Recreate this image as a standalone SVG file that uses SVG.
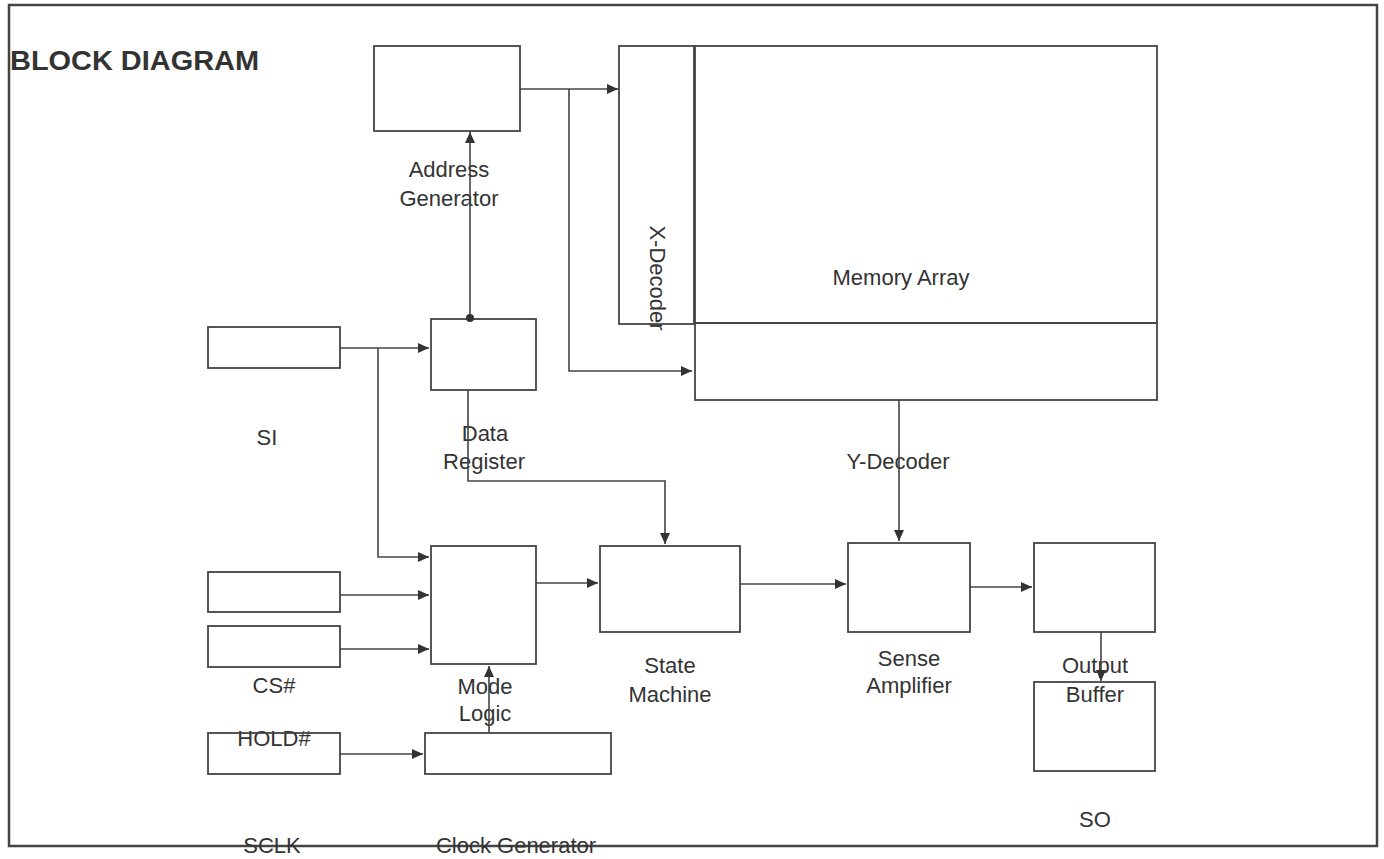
<svg xmlns="http://www.w3.org/2000/svg" width="1384" height="859" viewBox="0 0 1384 859">
<style>
.b{fill:none;stroke:#444;stroke-width:1.8}
.t{font-family:"Liberation Sans",Arial,sans-serif;font-size:22px;fill:#333;text-anchor:middle}
.c{fill:none;stroke:#444;stroke-width:1.6}
</style>
<defs>
<marker id="ah" markerUnits="userSpaceOnUse" markerWidth="11" markerHeight="10" refX="11" refY="5" orient="auto">
<path d="M0,0 L11,5 L0,10 z" fill="#333"/>
</marker>
</defs>
<rect x="0" y="0" width="1384" height="859" fill="#fff"/>
<rect x="9" y="5" width="1368" height="841" fill="none" stroke="#444" stroke-width="2.5"/>
<text x="10" y="70" font-family="Liberation Sans,Arial,sans-serif" font-weight="bold" font-size="27" fill="#333" textLength="249" lengthAdjust="spacingAndGlyphs">BLOCK DIAGRAM</text>

<g id="address-generator"><rect class="b" x="374" y="46" width="146" height="85"/><text class="t" x="449" y="177">Address</text><text class="t" x="449" y="206">Generator</text></g>
<g id="x-decoder"><rect class="b" x="619" y="46" width="75" height="278"/><text class="t" transform="translate(650,278) rotate(90)">X-Decoder</text></g>
<g id="memory-array"><rect class="b" x="695" y="46" width="462" height="277" stroke-width="2.2"/><text class="t" x="901" y="285">Memory Array</text></g>
<g id="y-decoder"><rect class="b" x="695" y="323" width="462" height="77"/><text class="t" x="898" y="469">Y-Decoder</text></g>
<g id="data-register"><rect class="b" x="431" y="319" width="105" height="71"/><text class="t" x="485" y="441">Data</text><text class="t" x="484" y="469">Register</text></g>
<g id="si"><rect class="b" x="208" y="327" width="132" height="41"/><text class="t" x="267" y="445">SI</text></g>
<g id="mode-logic"><rect class="b" x="431" y="546" width="105" height="118"/><text class="t" x="485" y="694">Mode</text><text class="t" x="485" y="721">Logic</text></g>
<g id="cs"><rect class="b" x="208" y="572" width="132" height="40"/><text class="t" x="274" y="693">CS#</text></g>
<g id="hold"><rect class="b" x="208" y="626" width="132" height="41"/><text class="t" x="274" y="746">HOLD#</text></g>
<g id="sclk"><rect class="b" x="208" y="733" width="132" height="41"/><text class="t" x="272" y="853">SCLK</text></g>
<g id="clock-generator"><rect class="b" x="425" y="733" width="186" height="41"/><text class="t" x="516" y="853">Clock Generator</text></g>
<g id="state-machine"><rect class="b" x="600" y="546" width="140" height="86"/><text class="t" x="670" y="673">State</text><text class="t" x="670" y="702">Machine</text></g>
<g id="sense-amplifier"><rect class="b" x="848" y="543" width="122" height="89"/><text class="t" x="909" y="666">Sense</text><text class="t" x="909" y="693">Amplifier</text></g>
<g id="output-buffer"><rect class="b" x="1034" y="543" width="121" height="89"/><text class="t" x="1095" y="673">Output</text><text class="t" x="1095" y="702">Buffer</text></g>
<g id="so"><rect class="b" x="1034" y="682" width="121" height="89"/><text class="t" x="1095" y="827">SO</text></g>

<g id="connectors">
<path class="c" d="M520,89 H618" marker-end="url(#ah)"/>
<path class="c" d="M569,89 V371 H692" marker-end="url(#ah)"/>
<path class="c" d="M470,318 V132" marker-end="url(#ah)"/>
<circle cx="470" cy="318" r="4" fill="#333"/>
<path class="c" d="M340,348 H429" marker-end="url(#ah)"/>
<path class="c" d="M378,348 V557 H429" marker-end="url(#ah)"/>
<path class="c" d="M468,390 V481 H665 V544" marker-end="url(#ah)"/>
<path class="c" d="M340,595 H429" marker-end="url(#ah)"/>
<path class="c" d="M340,649 H429" marker-end="url(#ah)"/>
<path class="c" d="M536,583 H598" marker-end="url(#ah)"/>
<path class="c" d="M740,584 H846" marker-end="url(#ah)"/>
<path class="c" d="M899,400 V541" marker-end="url(#ah)"/>
<path class="c" d="M970,587 H1032" marker-end="url(#ah)"/>
<path class="c" d="M1101,632 V681" marker-end="url(#ah)"/>
<path class="c" d="M340,754 H423" marker-end="url(#ah)"/>
<path class="c" d="M489,733 V666" marker-end="url(#ah)"/>
</g>
</svg>
